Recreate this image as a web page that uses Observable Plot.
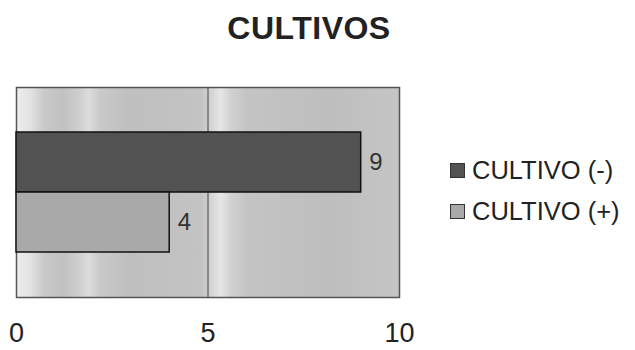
<!DOCTYPE html>
<html>
<head>
<meta charset="utf-8">
<script src="https://cdn.jsdelivr.net/npm/d3@7"></script>
<script src="https://cdn.jsdelivr.net/npm/@observablehq/plot@0.6"></script>
<style>
  html, body { margin: 0; padding: 0; background: #fff; }
  body { width: 635px; height: 350px; overflow: hidden; font-family: "Liberation Sans", Arial, sans-serif; }
  #wrap { position: relative; width: 635px; height: 350px; }
  #title { position: absolute; left: 0; top: 0; width: 618px; height: 56px; line-height: 56px; text-align: center;
           font-size: 32px; font-weight: bold; color: #222; letter-spacing: 0.5px; }
  #chart { position: absolute; left: 0; top: 60px; }
  #legend { position: absolute; left: 450px; top: 150px; font-size: 25.5px; color: #222; }
  .item { display: flex; align-items: center; height: 41px; white-space: nowrap; }
  .sw { width: 13px; height: 13px; border: 1.5px solid #333; margin-right: 7px; box-sizing: content-box; }
</style>
</head>
<body>
<div id="wrap">
  <div id="title"></div>
  <div id="chart"></div>
  <div id="legend"></div>
</div>
<script>
const title = "CULTIVOS";
const categories = ["CULTIVO (-)", "CULTIVO (+)"];
const values = [9, 4];
const xTicks = [0, 5, 10];
const colors = ["#525252", "#a9a9a9"];

const data = categories.map((c, i) => ({category: c, value: values[i]}));

document.getElementById("title").textContent = title;

const plot = Plot.plot({
  width: 635,
  height: 290,
  marginLeft: 16,
  marginRight: 236,
  marginTop: 27,
  marginBottom: 53,
  style: {fontFamily: "Liberation Sans, Arial, sans-serif", background: "transparent"},
  x: {domain: [0, 10], ticks: xTicks, label: null},
  y: {domain: categories, paddingInner: 0, paddingOuter: 0.735, axis: null},
  color: {domain: categories, range: colors},
  marks: [
    Plot.frame({fill: "url(#bgGrad)", stroke: "#555", strokeWidth: 1.5}),
    Plot.ruleX([5], {stroke: "#444", strokeWidth: 1}),
    Plot.barX(data, {x: "value", y: "category", fill: "category", stroke: "#111", strokeWidth: 1.5}),
    Plot.text(data, {x: "value", y: "category", text: d => String(d.value), dx: 8, textAnchor: "start", fontSize: 24, fill: "#333"}),
    Plot.axisX(xTicks, {tickSize: 0, tickPadding: 25, fontSize: 27, fill: "#222", label: null, tickFormat: d => String(d)})
  ]
});

// gradient imitating the textured background with light vertical bands
const ns = "http://www.w3.org/2000/svg";
const defs = document.createElementNS(ns, "defs");
const grad = document.createElementNS(ns, "linearGradient");
grad.setAttribute("id", "bgGrad");
grad.setAttribute("gradientUnits", "userSpaceOnUse");
grad.setAttribute("x1", "16"); grad.setAttribute("x2", "399");
grad.setAttribute("y1", "0"); grad.setAttribute("y2", "0");
const stops = [[16,"#ededed"],[30,"#e2e2e2"],[44,"#c9c9c9"],[62,"#c1c1c1"],[78,"#cecece"],[88,"#dcdcdc"],[100,"#c9c9c9"],[130,"#bfbfbf"],[200,"#c3c3c3"],[211,"#d4d4d4"],[220,"#e6e6e6"],[231,"#d0d0d0"],[246,"#c4c4c4"],[330,"#bebebe"],[399,"#c5c5c5"]];
for (const [x, c] of stops) {
  const s = document.createElementNS(ns, "stop");
  s.setAttribute("offset", ((x - 16) / 383).toFixed(4));
  s.setAttribute("stop-color", c);
  grad.appendChild(s);
}
defs.appendChild(grad);
plot.insertBefore(defs, plot.firstChild);
document.getElementById("chart").appendChild(plot);

const legend = document.getElementById("legend");
categories.forEach((c, i) => {
  const item = document.createElement("div");
  item.className = "item";
  const sw = document.createElement("span");
  sw.className = "sw";
  sw.style.background = colors[i];
  const t = document.createElement("span");
  t.textContent = c;
  item.appendChild(sw);
  item.appendChild(t);
  legend.appendChild(item);
});
</script>
</body>
</html>
